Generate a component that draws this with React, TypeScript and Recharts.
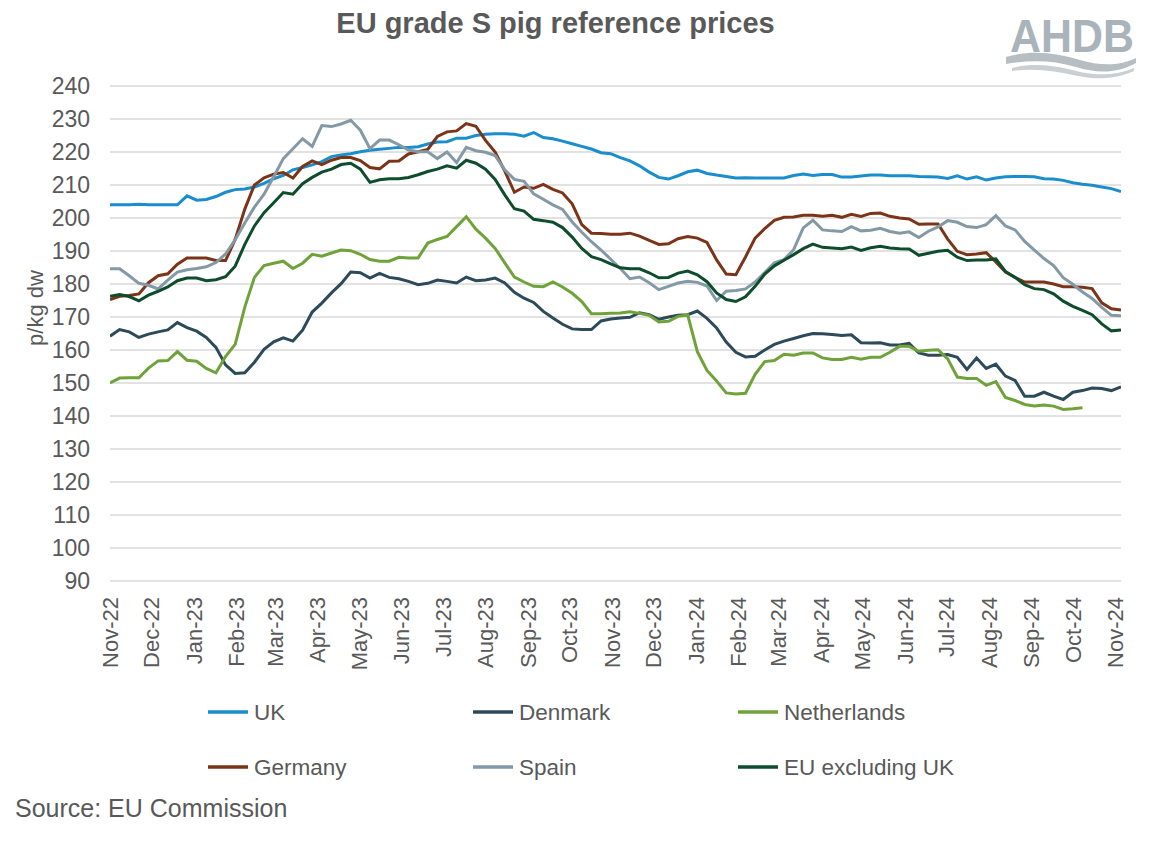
import React from "react";
import { LineChart, Line, XAxis, YAxis, CartesianGrid } from "recharts";

// Weekly observations (week 0 = first week of Nov-22)
const WEEK_DAYS = 7;

const TICK_DAYS = [0, 30, 61, 92, 120, 151, 181, 212, 242, 273, 304, 334, 365, 395, 426, 457, 486, 517, 547, 578, 608, 639, 670, 700, 731];
const TICK_LABELS = ["Nov-22", "Dec-22", "Jan-23", "Feb-23", "Mar-23", "Apr-23", "May-23", "Jun-23", "Jul-23", "Aug-23", "Sep-23", "Oct-23", "Nov-23", "Dec-23", "Jan-24", "Feb-24", "Mar-24", "Apr-24", "May-24", "Jun-24", "Jul-24", "Aug-24", "Sep-24", "Oct-24", "Nov-24"];
const Y_TICKS = [90, 100, 110, 120, 130, 140, 150, 160, 170, 180, 190, 200, 210, 220, 230, 240];

const UK = [204.0, 204.0, 204.0, 204.2, 204.0, 204.0, 204.0, 204.0, 206.7, 205.4, 205.6, 206.5, 207.8, 208.6, 208.8, 209.4, 210.5, 211.9, 212.9, 214.6, 215.3, 216.1, 217.1, 218.6, 219.1, 219.5, 220.1, 220.5, 220.8, 221.1, 221.4, 221.4, 221.6, 222.4, 223.0, 223.1, 224.2, 224.2, 225.0, 225.4, 225.5, 225.5, 225.4, 224.8, 225.9, 224.4, 224.0, 223.3, 222.5, 221.7, 220.9, 219.8, 219.5, 218.3, 217.3, 215.8, 213.9, 212.3, 211.8, 212.8, 214.0, 214.5, 213.5, 213.0, 212.6, 212.1, 212.2, 212.1, 212.1, 212.1, 212.1, 212.9, 213.3, 212.9, 213.2, 213.2, 212.4, 212.4, 212.7, 213.0, 213.0, 212.8, 212.8, 212.8, 212.6, 212.5, 212.4, 212.0, 212.8, 211.8, 212.5, 211.5, 212.1, 212.5, 212.6, 212.6, 212.5, 211.9, 211.8, 211.4, 210.7, 210.2, 209.9, 209.4, 208.9, 208.0];

const DENMARK = [164.2, 166.2, 165.5, 163.8, 164.8, 165.5, 166.1, 168.3, 166.8, 165.7, 163.8, 160.8, 155.5, 152.9, 153.1, 156.3, 160.2, 162.5, 163.7, 162.7, 166.0, 171.5, 174.2, 177.3, 180.1, 183.6, 183.4, 181.8, 183.2, 182.0, 181.6, 180.8, 179.8, 180.2, 181.2, 180.8, 180.3, 182.1, 181.0, 181.2, 181.8, 180.3, 177.5, 175.7, 174.4, 171.7, 169.7, 167.8, 166.4, 166.2, 166.2, 168.8, 169.4, 169.7, 169.9, 171.3, 170.7, 169.3, 170.0, 170.5, 170.7, 171.8, 169.6, 166.7, 162.4, 159.3, 157.9, 158.1, 160.0, 161.7, 162.7, 163.5, 164.3, 165.0, 164.9, 164.7, 164.4, 164.6, 162.2, 162.1, 162.2, 161.5, 161.5, 162.0, 159.1, 158.4, 158.4, 158.6, 157.8, 154.1, 157.6, 154.4, 155.7, 152.1, 150.8, 146.0, 146.0, 147.2, 146.0, 145.0, 147.2, 147.7, 148.5, 148.3, 147.7, 148.8];

const NETHERLANDS = [150.0, 151.5, 151.6, 151.6, 154.5, 156.7, 156.8, 159.5, 156.9, 156.6, 154.4, 153.1, 158.0, 161.7, 173.0, 182.0, 185.6, 186.3, 186.9, 184.7, 186.3, 189.0, 188.4, 189.4, 190.3, 190.1, 189.0, 187.4, 186.9, 186.9, 188.1, 187.9, 187.9, 192.4, 193.5, 194.4, 197.4, 200.4, 196.6, 193.9, 190.8, 186.4, 182.1, 180.6, 179.3, 179.2, 180.6, 179.1, 177.2, 174.7, 171.0, 171.0, 171.1, 171.2, 171.6, 171.1, 170.5, 168.5, 168.7, 170.2, 170.6, 159.5, 153.8, 150.6, 147.0, 146.7, 146.9, 152.6, 156.5, 156.8, 158.7, 158.4, 159.1, 159.1, 157.6, 157.1, 157.1, 157.8, 157.2, 157.8, 157.8, 159.3, 161.1, 161.1, 159.6, 159.9, 160.1, 157.3, 151.8, 151.4, 151.4, 149.3, 150.4, 145.6, 144.7, 143.5, 143.0, 143.3, 143.0, 142.0, 142.2, 142.5];

const GERMANY = [175.3, 176.3, 176.5, 177.0, 180.4, 182.5, 183.1, 186.0, 187.9, 187.9, 187.9, 187.1, 187.1, 193.5, 202.7, 210.0, 212.2, 213.3, 213.8, 212.1, 215.6, 217.3, 216.2, 217.5, 218.3, 218.3, 217.4, 215.3, 214.9, 217.2, 217.3, 219.4, 220.1, 220.8, 224.7, 226.1, 226.4, 228.6, 227.8, 223.5, 220.0, 214.2, 207.8, 209.4, 209.0, 210.2, 208.7, 207.6, 204.3, 198.0, 195.4, 195.3, 195.1, 195.1, 195.4, 194.5, 193.2, 192.0, 192.2, 193.7, 194.4, 193.9, 192.6, 187.3, 183.0, 182.8, 188.2, 193.9, 196.8, 199.3, 200.2, 200.3, 200.8, 200.8, 200.5, 200.8, 200.2, 201.1, 200.5, 201.4, 201.5, 200.5, 200.0, 199.7, 198.1, 198.2, 198.2, 193.6, 189.9, 188.9, 189.1, 189.5, 186.7, 183.6, 182.0, 180.6, 180.6, 180.6, 180.0, 179.2, 179.2, 179.0, 178.6, 174.3, 172.5, 172.1];

const SPAIN = [184.6, 184.6, 182.5, 180.2, 179.6, 178.5, 181.2, 183.6, 184.3, 184.7, 185.2, 186.5, 189.1, 193.4, 198.5, 203.3, 207.2, 212.5, 218.0, 221.0, 224.0, 221.7, 228.0, 227.7, 228.5, 229.6, 226.6, 221.0, 223.6, 223.6, 222.2, 220.6, 220.1, 220.1, 218.0, 220.0, 216.8, 221.4, 220.4, 219.9, 218.9, 214.6, 211.7, 211.1, 207.3, 205.7, 204.0, 202.6, 198.8, 195.7, 192.8, 190.3, 187.5, 184.7, 181.6, 182.1, 180.4, 178.3, 179.3, 180.3, 180.8, 180.5, 179.4, 175.0, 177.8, 178.0, 178.5, 180.6, 183.5, 186.4, 187.4, 190.4, 197.0, 199.3, 196.4, 196.1, 195.9, 197.4, 196.1, 196.3, 196.9, 195.9, 195.4, 195.8, 194.1, 196.0, 197.3, 199.2, 198.7, 197.4, 197.1, 198.0, 200.7, 197.6, 196.4, 192.9, 190.3, 187.7, 185.6, 181.9, 179.9, 177.6, 175.6, 172.9, 170.5, 170.4];

const EU_EX_UK = [176.3, 176.8, 176.2, 174.9, 176.6, 177.8, 179.1, 181.0, 181.8, 181.8, 181.0, 181.3, 182.2, 185.4, 192.0, 197.6, 201.6, 204.6, 207.7, 207.2, 210.4, 212.3, 213.9, 214.8, 216.2, 216.6, 214.8, 210.8, 211.6, 211.9, 211.9, 212.3, 213.1, 214.1, 214.8, 215.8, 215.1, 217.5, 216.6, 214.8, 211.7, 207.0, 202.8, 202.1, 199.6, 199.2, 198.7, 197.1, 194.2, 190.8, 188.3, 187.4, 186.1, 184.9, 184.6, 184.6, 183.4, 181.9, 182.0, 183.3, 183.9, 182.8, 180.7, 177.3, 175.3, 174.7, 176.1, 179.3, 183.0, 185.5, 187.2, 188.9, 190.7, 192.1, 191.1, 190.9, 190.7, 191.2, 190.2, 191.0, 191.4, 190.9, 190.7, 190.6, 188.7, 189.3, 189.9, 190.2, 188.1, 187.1, 187.3, 187.3, 187.6, 183.8, 182.0, 179.8, 178.6, 178.3, 177.0, 174.8, 173.2, 172.0, 170.7, 167.9, 165.8, 166.1];

const SERIES = [
  { key: "UK", name: "UK", color: "#1a8dcc" },
  { key: "Denmark", name: "Denmark", color: "#2c4a59" },
  { key: "Netherlands", name: "Netherlands", color: "#6fa33a" },
  { key: "Germany", name: "Germany", color: "#7b3417" },
  { key: "Spain", name: "Spain", color: "#8399a5" },
  { key: "EU", name: "EU excluding UK", color: "#0e4d2b" },
];

const data = UK.map((v, i) => ({
  day: i * WEEK_DAYS,
  UK: v,
  Denmark: DENMARK[i],
  Netherlands: NETHERLANDS[i],
  Germany: GERMANY[i],
  Spain: SPAIN[i],
  EU: EU_EX_UK[i],
}));

const FONT = "'Liberation Sans', Arial, Helvetica, sans-serif";
const TEXT = "#595959";

const YTick = (props: any) => {
  const { x, y, payload } = props;
  return (
    <text x={x} y={y} dy="0.35em" textAnchor="end" fontSize={23} fill={TEXT} fontFamily={FONT}>
      {payload.value}
    </text>
  );
};

const XTick = (props: any) => {
  const { x, y, payload } = props;
  const idx = TICK_DAYS.indexOf(payload.value);
  return (
    <text
      transform={`translate(${x},${y}) rotate(-90)`}
      dy="0.35em"
      textAnchor="end"
      fontSize={22}
      fill={TEXT}
      fontFamily={FONT}
    >
      {idx >= 0 ? TICK_LABELS[idx] : ""}
    </text>
  );
};

const LEGEND_ROWS = [
  [SERIES[0], SERIES[1], SERIES[2]],
  [SERIES[3], SERIES[4], SERIES[5]],
];
const LEGEND_COL_X = [208, 473, 738];
const LEGEND_ROW_Y = [712, 767];

export default function App() {
  return (
    <div
      style={{
        position: "absolute",
        left: 0,
        top: 0,
        width: 1152,
        height: 843,
        background: "#ffffff",
        fontFamily: FONT,
        overflow: "hidden",
      }}
    >
      <div style={{ position: "absolute", left: 0, top: 0 }}>
        <LineChart
          width={1152}
          height={700}
          data={data}
          margin={{ top: 86, right: 31, left: 0, bottom: 19 }}
        >
          <CartesianGrid horizontal={true} vertical={false} stroke="#d9d9d9" strokeWidth={1.5} />
          <XAxis
            dataKey="day"
            type="number"
            domain={[0, 735]}
            ticks={TICK_DAYS}
            interval={0}
            tick={<XTick />}
            tickLine={false}
            axisLine={false}
            tickSize={0}
            tickMargin={16}
            height={100}
            allowDataOverflow={true}
          />
          <YAxis
            type="number"
            domain={[90, 240]}
            ticks={Y_TICKS}
            interval={0}
            tick={<YTick />}
            tickLine={false}
            axisLine={false}
            tickSize={0}
            tickMargin={20}
            width={110}
          />
          {SERIES.map((s) => (
            <Line
              key={s.key}
              type="linear"
              dataKey={s.key}
              name={s.name}
              stroke={s.color}
              strokeWidth={3}
              dot={false}
              activeDot={false}
              isAnimationActive={false}
              connectNulls={false}
            />
          ))}
        </LineChart>
      </div>

      <svg
        width={1152}
        height={843}
        style={{ position: "absolute", left: 0, top: 0, pointerEvents: "none" }}
      >
        <text x={555.5} y={33} textAnchor="middle" fontSize={29} fontWeight="bold" fill={TEXT} fontFamily={FONT}>
          EU grade S pig reference prices
        </text>

        <text transform="translate(43,308) rotate(-90)" textAnchor="middle" fontSize={22} fill={TEXT} fontFamily={FONT}>
          p/kg dw
        </text>

        {/* AHDB logo */}
        <text
          x={1010}
          y={52}
          fontSize={46}
          fontWeight="bold"
          fill="#aab3ba"
          fontFamily={FONT}
          textLength={124}
          lengthAdjust="spacingAndGlyphs"
        >
          AHDB
        </text>
        <path
          d="M1006 57 C 1030 50, 1055 52, 1080 60 C 1100 66, 1120 66, 1136 58 L 1136 63 C 1118 73, 1098 74, 1076 67 C 1052 60, 1030 60, 1006 64 Z"
          fill="#b6bec4"
        />
        <path
          d="M1012 68 C 1035 62, 1058 66, 1080 72 C 1100 76, 1118 75, 1134 68 L 1134 71 C 1116 79, 1098 80, 1078 76 C 1056 71, 1034 68, 1012 71 Z"
          fill="#c9cfd3"
        />

        {LEGEND_ROWS.map((row, r) =>
          row.map((s, c) => (
            <g key={s.key}>
              <line
                x1={LEGEND_COL_X[c]}
                x2={LEGEND_COL_X[c] + 40}
                y1={LEGEND_ROW_Y[r]}
                y2={LEGEND_ROW_Y[r]}
                stroke={s.color}
                strokeWidth={3.5}
              />
              <text x={LEGEND_COL_X[c] + 46} y={LEGEND_ROW_Y[r] + 8} fontSize={22.5} fill={TEXT} fontFamily={FONT}>
                {s.name}
              </text>
            </g>
          ))
        )}

        <text x={15} y={817} fontSize={25} fill={TEXT} fontFamily={FONT}>
          Source: EU Commission
        </text>
      </svg>
    </div>
  );
}
